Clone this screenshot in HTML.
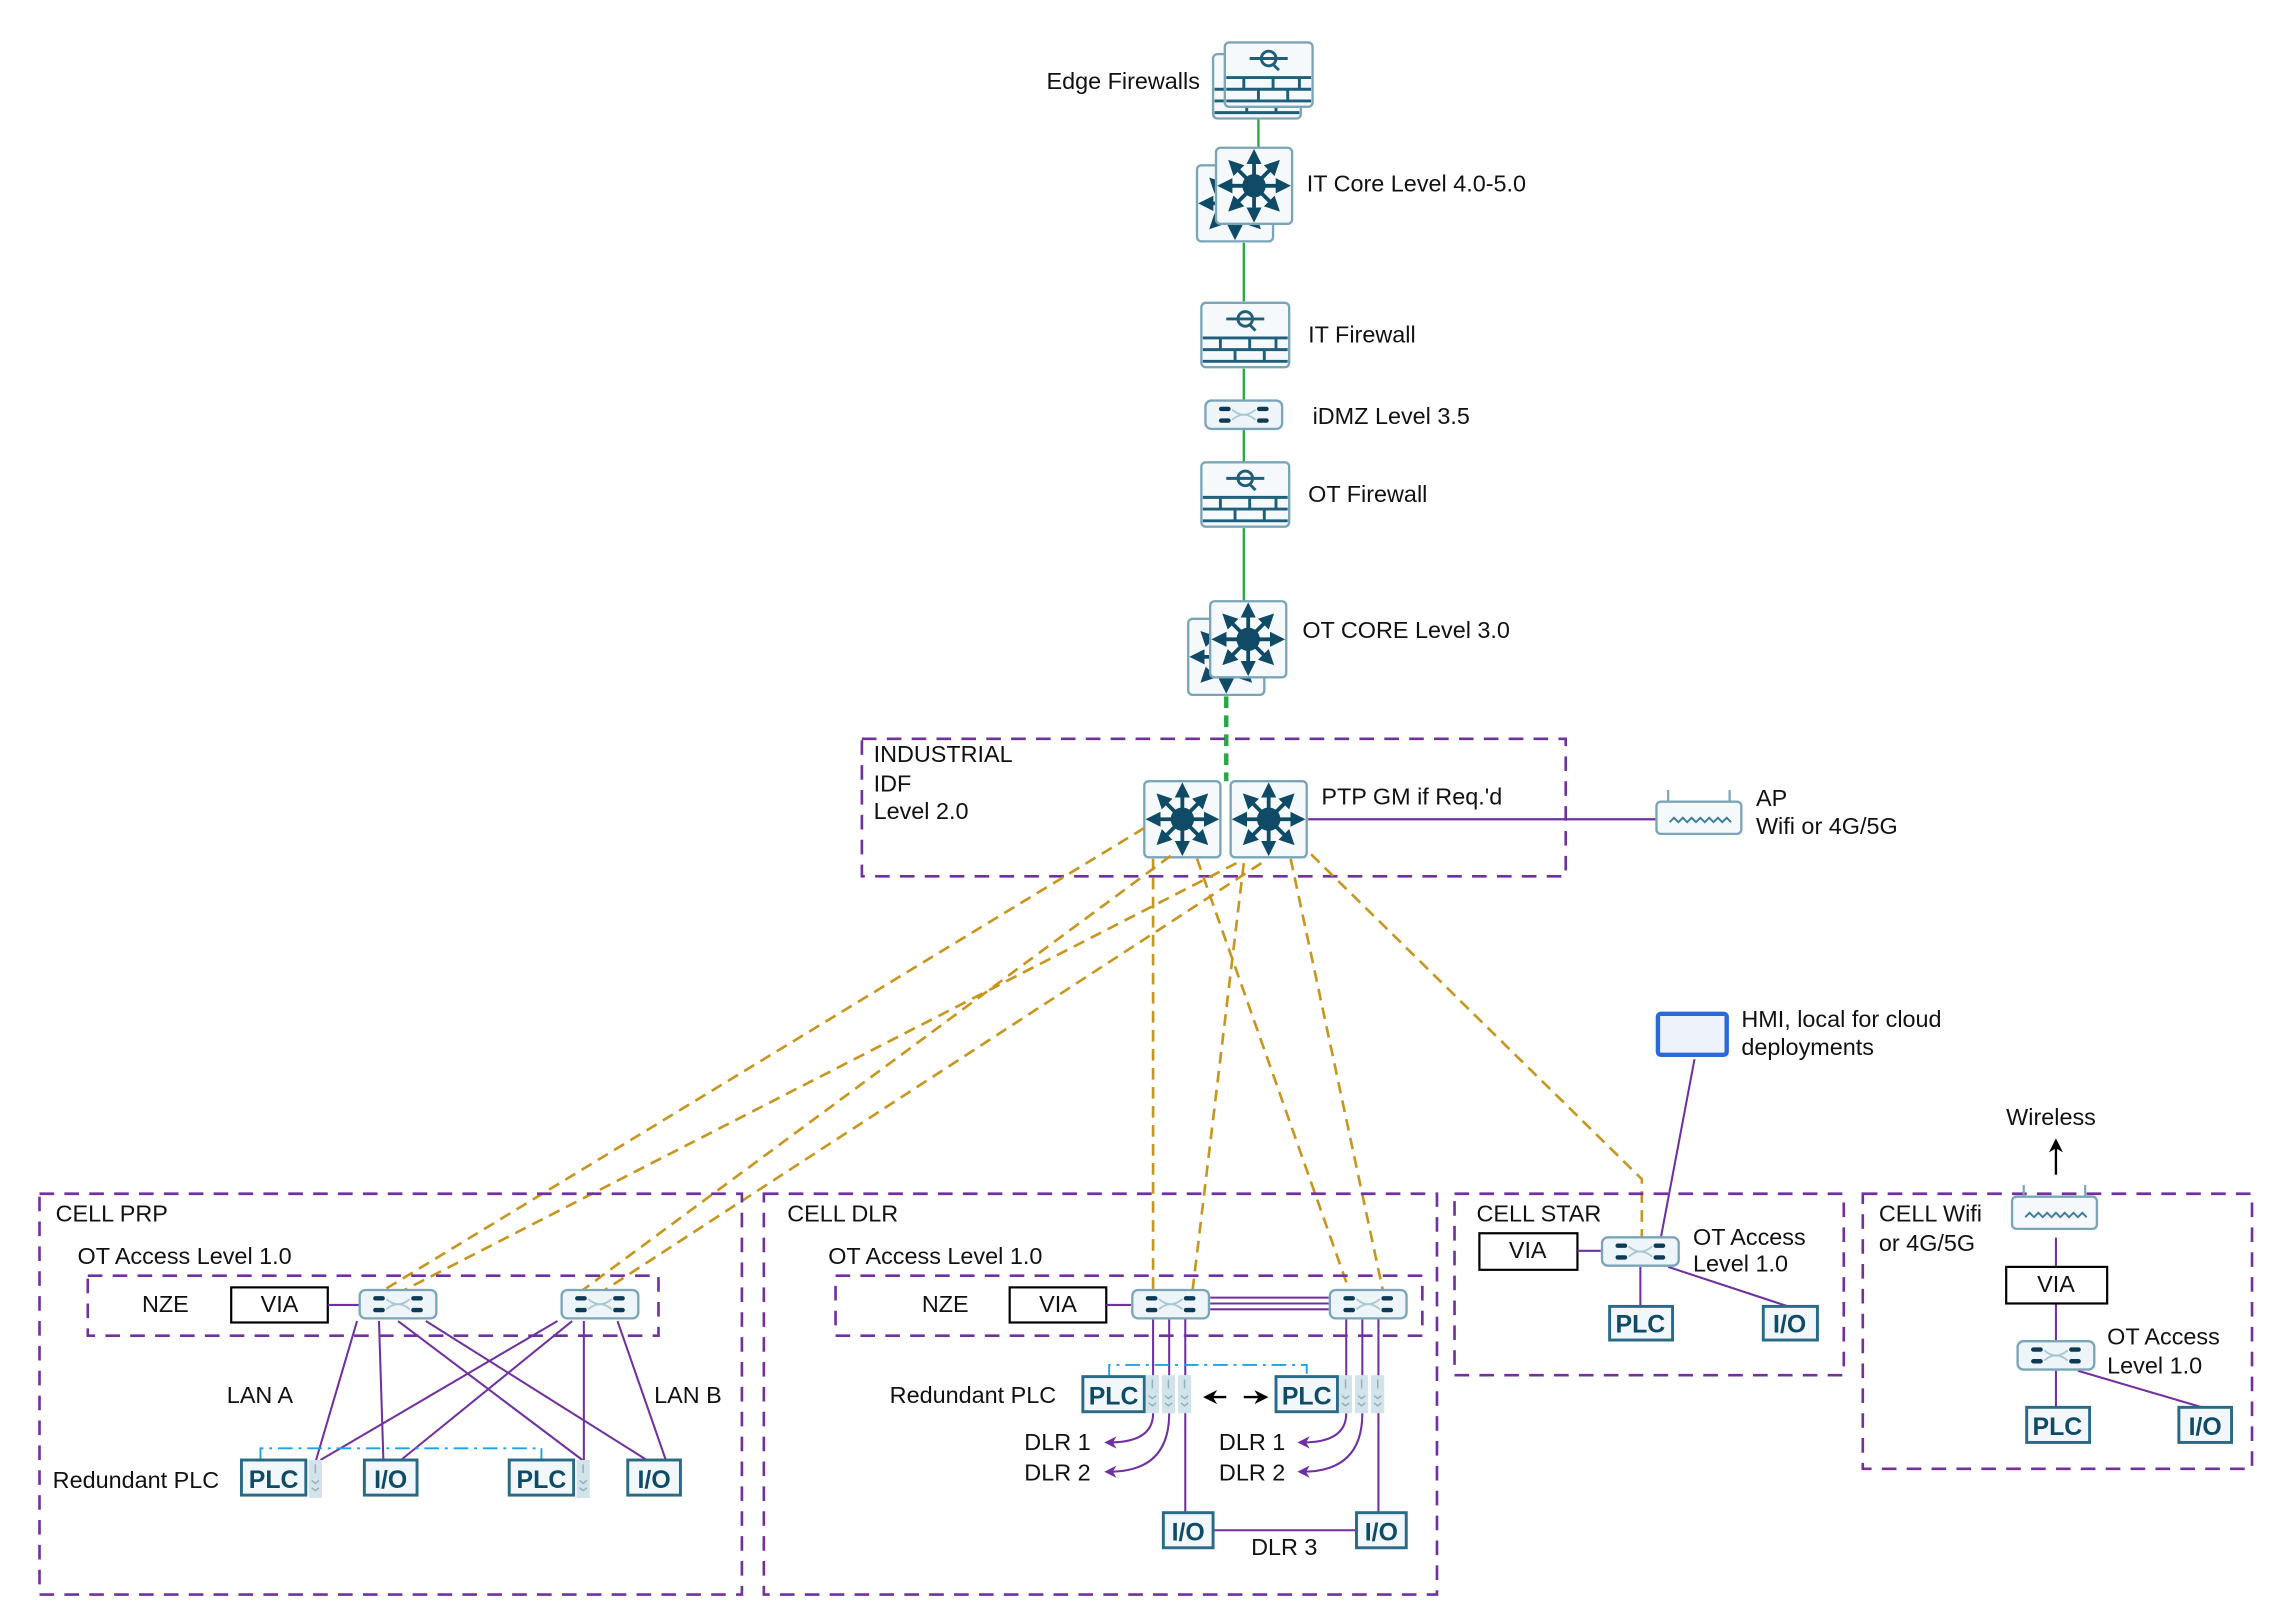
<!DOCTYPE html>
<html><head><meta charset="utf-8">
<style>
html,body{margin:0;padding:0;background:#fff;}
svg{display:block;}
text{font-family:"Liberation Sans",Arial,sans-serif;fill:#111;}
.lbl{font-size:16px;}
.box{font-size:17px;font-weight:bold;fill:#0f4a66;}
</style></head><body>
<svg width="2293" height="1618" viewBox="0 0 1567 1106" preserveAspectRatio="none" xmlns="http://www.w3.org/2000/svg">
<defs>
<marker id="ah" viewBox="0 0 10 10" refX="5" refY="5" markerWidth="4" markerHeight="4" orient="auto"><path d="M0,0 L10,5 L0,10 z" fill="#0f4a66"/></marker>
<marker id="pa" viewBox="0 0 10 10" refX="6" refY="5" markerWidth="6" markerHeight="6" orient="auto"><path d="M0,0 L10,5 L0,10 L3,5 z" fill="#7030a0"/></marker>
<marker id="ka" viewBox="0 0 10 10" refX="6" refY="5" markerWidth="6" markerHeight="6" orient="auto"><path d="M0,0 L10,5 L0,10 L3,5 z" fill="#000"/></marker>
<g id="core">
<rect x="1" y="1" width="52" height="52" rx="3" fill="#f6f9fb" stroke="#7aa5b8" stroke-width="1.6"/>
<g stroke="#0f4a66" stroke-width="2.6" marker-end="url(#ah)">
<line x1="27" y1="27" x2="27" y2="7"/><line x1="27" y1="27" x2="27" y2="47"/>
<line x1="27" y1="27" x2="7" y2="27"/><line x1="27" y1="27" x2="47" y2="27"/>
<line x1="27" y1="27" x2="13" y2="13"/><line x1="27" y1="27" x2="41" y2="13"/>
<line x1="27" y1="27" x2="13" y2="41"/><line x1="27" y1="27" x2="41" y2="41"/>
</g>
<circle cx="27" cy="27" r="8" fill="#0f4a66"/>
</g>
<g id="fw">
<rect x="1" y="1" width="60" height="44" rx="3" fill="#f6f9fb" stroke="#7aa5b8" stroke-width="1.6"/>
<g stroke="#1f5f7a" stroke-width="2" fill="none">
<line x1="18" y1="12" x2="44" y2="12"/><circle cx="31" cy="12" r="5"/><line x1="34" y1="16" x2="38" y2="20"/>
<line x1="2" y1="25" x2="60" y2="25"/><line x1="2" y1="33" x2="60" y2="33"/><line x1="2" y1="41" x2="60" y2="41"/>
<line x1="14" y1="25" x2="14" y2="33"/><line x1="34" y1="25" x2="34" y2="33"/><line x1="52" y1="25" x2="52" y2="33"/>
<line x1="24" y1="33" x2="24" y2="41"/><line x1="44" y1="33" x2="44" y2="41"/>
</g>
</g>
<g id="sw">
<rect x="0.8" y="0.8" width="52.4" height="19.4" rx="4" fill="#eef5f8" stroke="#7aa5b8" stroke-width="1.6"/>
<g fill="#0f3a56"><rect x="10" y="5" width="8" height="3" rx="1.5"/><rect x="36" y="5" width="8" height="3" rx="1.5"/><rect x="10" y="13" width="8" height="3" rx="1.5"/><rect x="36" y="13" width="8" height="3" rx="1.5"/></g>
<path d="M19,7 Q27,14 35,7 M19,14 Q27,7 35,14" stroke="#a9c6d3" stroke-width="1.2" fill="none"/>
</g>
<g id="ap">
<line x1="9" y1="0" x2="9" y2="8" stroke="#7aa5b8" stroke-width="1.5"/><line x1="51" y1="0" x2="51" y2="8" stroke="#7aa5b8" stroke-width="1.5"/>
<rect x="1" y="8" width="58" height="22" rx="3" fill="#f6f9fb" stroke="#7aa5b8" stroke-width="1.6"/>
<path d="M10,22 l3,-3 l3,3 l3,-3 l3,3 l3,-3 l3,3 l3,-3 l3,3 l3,-3 l3,3 l3,-3 l3,3 l3,-3 l3,3" stroke="#3a7d9c" stroke-width="1.3" fill="none"/>
</g>
<g id="rack">
<rect x="0" y="0" width="9" height="26" fill="#d3e3ea"/>
<path d="M4.5,3 v6 M2,14 l2.5,2 l2.5,-2 M2,19 l2.5,2 l2.5,-2" stroke="#8fb0bf" stroke-width="1" fill="none"/>
</g>
</defs>

<g stroke="#27a844" stroke-width="1.6">
<line x1="860" y1="78" x2="860" y2="102"/>
<line x1="850" y1="166" x2="850" y2="206"/>
<line x1="850" y1="252" x2="850" y2="274"/>
<line x1="850" y1="294" x2="850" y2="316"/>
<line x1="850" y1="361" x2="850" y2="412"/>
</g>
<line x1="838" y1="476" x2="838" y2="534" stroke="#27a844" stroke-width="3" stroke-dasharray="8,5"/>

<use href="#fw" x="828" y="36"/>
<use href="#fw" x="836" y="28"/>
<text class="lbl" x="820" y="61" text-anchor="end">Edge Firewalls</text>
<use href="#core" x="817" y="112"/>
<use href="#core" x="830" y="100"/>
<text class="lbl" x="893" y="131">IT Core Level 4.0-5.0</text>
<use href="#fw" x="820" y="206"/>
<text class="lbl" x="894" y="234">IT Firewall</text>
<use href="#sw" x="823" y="273"/>
<text class="lbl" x="897" y="290">iDMZ Level 3.5</text>
<use href="#fw" x="820" y="315"/>
<text class="lbl" x="894" y="343">OT Firewall</text>
<use href="#core" x="811" y="422"/>
<use href="#core" x="826" y="410"/>
<text class="lbl" x="890" y="436">OT CORE Level 3.0</text>

<rect x="589" y="505" width="481" height="94" fill="none" stroke="#7030a0" stroke-width="1.8" stroke-dasharray="10,7"/>
<text class="lbl" x="597" y="521">INDUSTRIAL</text>
<text class="lbl" x="597" y="541">IDF</text>
<text class="lbl" x="597" y="560">Level 2.0</text>
<use href="#core" x="781" y="533"/>
<use href="#core" x="840" y="533"/>
<text class="lbl" x="903" y="550">PTP GM if Req.'d</text>
<line x1="894" y1="560" x2="1132" y2="560" stroke="#7030a0" stroke-width="1.6"/>
<use href="#ap" x="1131" y="540"/>
<text class="lbl" x="1200" y="551">AP</text>
<text class="lbl" x="1200" y="570">Wifi or 4G/5G</text>

<rect x="1133" y="693" width="47" height="28" rx="2" fill="#eef2fb" stroke="#2a6ad8" stroke-width="3"/>
<text class="lbl" x="1190" y="702">HMI, local for cloud</text>
<text class="lbl" x="1190" y="721">deployments</text>
<line x1="1158" y1="724" x2="1135" y2="846" stroke="#7030a0" stroke-width="1.4"/>

<g stroke="#c8961e" stroke-width="1.8" stroke-dasharray="8,5" fill="none">
<line x1="782" y1="566" x2="262" y2="882"/>
<line x1="845" y1="590" x2="276" y2="882"/>
<line x1="800" y1="585" x2="398" y2="882"/>
<line x1="862" y1="590" x2="413" y2="882"/>
<line x1="788" y1="587" x2="788" y2="882"/>
<line x1="850" y1="590" x2="815" y2="882"/>
<line x1="818" y1="587" x2="922" y2="882"/>
<line x1="882" y1="587" x2="945" y2="882"/>
<polyline points="896,584 1122,806 1122,846"/>
</g>

<rect x="27" y="816" width="480" height="274" fill="none" stroke="#7030a0" stroke-width="1.8" stroke-dasharray="10,7"/>
<text class="lbl" x="38" y="835">CELL PRP</text>
<text class="lbl" x="53" y="864">OT Access Level 1.0</text>
<rect x="60" y="872" width="390" height="41" fill="none" stroke="#7030a0" stroke-width="1.8" stroke-dasharray="10,7"/>
<text class="lbl" x="97" y="897">NZE</text>
<rect x="158" y="880" width="66" height="24" fill="#fff" stroke="#000" stroke-width="1.5"/>
<text class="lbl" x="191" y="897" text-anchor="middle">VIA</text>
<line x1="224" y1="892" x2="245" y2="892" stroke="#7030a0" stroke-width="1.4"/>
<g stroke="#7030a0" stroke-width="1.4">
<line x1="244" y1="903" x2="216" y2="998"/>
<line x1="259" y1="903" x2="262" y2="998"/>
<line x1="272" y1="903" x2="398" y2="998"/>
<line x1="291" y1="903" x2="442" y2="998"/>
<line x1="381" y1="903" x2="219" y2="998"/>
<line x1="391" y1="903" x2="274" y2="998"/>
<line x1="399" y1="903" x2="399" y2="998"/>
<line x1="422" y1="903" x2="455" y2="998"/>
</g>
<polyline points="178,998 178,990 370,990 370,998" fill="none" stroke="#1aa3e6" stroke-width="1.3" stroke-dasharray="10,4,2,4"/>
<use href="#sw" x="245" y="881"/>
<use href="#sw" x="383" y="881"/>
<text class="lbl" x="155" y="959">LAN A</text>
<text class="lbl" x="447" y="959">LAN B</text>
<text class="lbl" x="36" y="1017">Redundant PLC</text>
<rect x="165" y="998" width="44" height="24" fill="#f1f7fa" stroke="#2a6a86" stroke-width="2"/><text class="box" x="187" y="1017" text-anchor="middle">PLC</text>
<use href="#rack" x="211" y="998"/>
<rect x="249" y="998" width="36" height="24" fill="#f1f7fa" stroke="#2a6a86" stroke-width="2"/><text class="box" x="267" y="1017" text-anchor="middle">I/O</text>
<rect x="348" y="998" width="44" height="24" fill="#f1f7fa" stroke="#2a6a86" stroke-width="2"/><text class="box" x="370" y="1017" text-anchor="middle">PLC</text>
<use href="#rack" x="394" y="998"/>
<rect x="429" y="998" width="36" height="24" fill="#f1f7fa" stroke="#2a6a86" stroke-width="2"/><text class="box" x="447" y="1017" text-anchor="middle">I/O</text>

<rect x="522" y="816" width="460" height="274" fill="none" stroke="#7030a0" stroke-width="1.8" stroke-dasharray="10,7"/>
<text class="lbl" x="538" y="835">CELL DLR</text>
<text class="lbl" x="566" y="864">OT Access Level 1.0</text>
<rect x="571" y="872" width="401" height="41" fill="none" stroke="#7030a0" stroke-width="1.8" stroke-dasharray="10,7"/>
<text class="lbl" x="630" y="897">NZE</text>
<rect x="690" y="880" width="66" height="24" fill="#fff" stroke="#000" stroke-width="1.5"/>
<text class="lbl" x="723" y="897" text-anchor="middle">VIA</text>
<line x1="756" y1="892" x2="773" y2="892" stroke="#7030a0" stroke-width="1.4"/>
<g stroke="#7030a0" stroke-width="1.4" fill="none">
<line x1="827" y1="887" x2="908" y2="887"/><line x1="827" y1="891" x2="908" y2="891"/><line x1="827" y1="895" x2="908" y2="895"/>
<line x1="788" y1="902" x2="788" y2="942"/><line x1="799" y1="902" x2="799" y2="942"/><line x1="810" y1="902" x2="810" y2="1034"/>
<line x1="920" y1="902" x2="920" y2="942"/><line x1="931" y1="902" x2="931" y2="942"/><line x1="942" y1="902" x2="942" y2="1034"/>
<line x1="829" y1="1046" x2="927" y2="1046"/>
<path d="M788,966 Q788,986 758,986" marker-end="url(#pa)"/>
<path d="M799,966 Q799,1006 758,1006" marker-end="url(#pa)"/>
<path d="M920,966 Q920,986 890,986" marker-end="url(#pa)"/>
<path d="M931,966 Q931,1006 890,1006" marker-end="url(#pa)"/>
</g>
<polyline points="758,942 758,933 893,933 893,942" fill="none" stroke="#1aa3e6" stroke-width="1.3" stroke-dasharray="10,4,2,4"/>
<use href="#sw" x="773" y="881"/>
<use href="#sw" x="908" y="881"/>
<text class="lbl" x="608" y="959">Redundant PLC</text>
<rect x="740" y="941" width="42" height="24" fill="#f1f7fa" stroke="#2a6a86" stroke-width="2"/><text class="box" x="761" y="960" text-anchor="middle">PLC</text>
<use href="#rack" x="783" y="940"/><use href="#rack" x="794" y="940"/><use href="#rack" x="805" y="940"/>
<rect x="872" y="941" width="42" height="24" fill="#f1f7fa" stroke="#2a6a86" stroke-width="2"/><text class="box" x="893" y="960" text-anchor="middle">PLC</text>
<use href="#rack" x="915" y="940"/><use href="#rack" x="926" y="940"/><use href="#rack" x="937" y="940"/>
<line x1="838" y1="955" x2="826" y2="955" stroke="#000" stroke-width="1.6" marker-end="url(#ka)"/>
<line x1="850" y1="955" x2="863" y2="955" stroke="#000" stroke-width="1.6" marker-end="url(#ka)"/>
<text class="lbl" x="700" y="991">DLR 1</text>
<text class="lbl" x="700" y="1012">DLR 2</text>
<text class="lbl" x="833" y="991">DLR 1</text>
<text class="lbl" x="833" y="1012">DLR 2</text>
<rect x="795" y="1034" width="34" height="24" fill="#f1f7fa" stroke="#2a6a86" stroke-width="2"/><text class="box" x="812" y="1053" text-anchor="middle">I/O</text>
<rect x="927" y="1034" width="34" height="24" fill="#f1f7fa" stroke="#2a6a86" stroke-width="2"/><text class="box" x="944" y="1053" text-anchor="middle">I/O</text>
<text class="lbl" x="855" y="1063">DLR 3</text>

<rect x="994" y="816" width="266" height="124" fill="none" stroke="#7030a0" stroke-width="1.8" stroke-dasharray="10,7"/>
<text class="lbl" x="1009" y="835">CELL STAR</text>
<rect x="1011" y="843" width="67" height="25" fill="#fff" stroke="#000" stroke-width="1.5"/>
<text class="lbl" x="1044" y="860" text-anchor="middle">VIA</text>
<g stroke="#7030a0" stroke-width="1.4">
<line x1="1078" y1="855" x2="1094" y2="855"/>
<line x1="1121" y1="866" x2="1121" y2="893"/>
<line x1="1140" y1="866" x2="1222" y2="893"/>
</g>
<use href="#sw" x="1094" y="845"/>
<text class="lbl" x="1157" y="851">OT Access</text>
<text class="lbl" x="1157" y="869">Level 1.0</text>
<rect x="1100" y="893" width="43" height="23" fill="#f1f7fa" stroke="#2a6a86" stroke-width="2"/><text class="box" x="1121" y="911" text-anchor="middle">PLC</text>
<rect x="1205" y="893" width="37" height="23" fill="#f1f7fa" stroke="#2a6a86" stroke-width="2"/><text class="box" x="1223" y="911" text-anchor="middle">I/O</text>

<rect x="1273" y="816" width="266" height="188" fill="none" stroke="#7030a0" stroke-width="1.8" stroke-dasharray="10,7"/>
<text class="lbl" x="1284" y="835">CELL Wifi</text>
<text class="lbl" x="1284" y="855">or 4G/5G</text>
<text class="lbl" x="1371" y="769">Wireless</text>
<line x1="1405" y1="803" x2="1405" y2="782" stroke="#000" stroke-width="1.6" marker-end="url(#ka)"/>
<g stroke="#7030a0" stroke-width="1.4">
<line x1="1405" y1="846" x2="1405" y2="866"/>
<line x1="1405" y1="891" x2="1405" y2="916"/>
<line x1="1405" y1="937" x2="1405" y2="962"/>
<line x1="1420" y1="937" x2="1505" y2="962"/>
</g>
<use href="#ap" x="1374" y="810"/>
<rect x="1371" y="866" width="69" height="25" fill="#fff" stroke="#000" stroke-width="1.5"/>
<text class="lbl" x="1405" y="883" text-anchor="middle">VIA</text>
<use href="#sw" x="1378" y="916"/>
<text class="lbl" x="1440" y="919">OT Access</text>
<text class="lbl" x="1440" y="939">Level 1.0</text>
<rect x="1385" y="962" width="43" height="24" fill="#f1f7fa" stroke="#2a6a86" stroke-width="2"/><text class="box" x="1406" y="981" text-anchor="middle">PLC</text>
<rect x="1489" y="962" width="36" height="24" fill="#f1f7fa" stroke="#2a6a86" stroke-width="2"/><text class="box" x="1507" y="981" text-anchor="middle">I/O</text>
</svg>
</body></html>
